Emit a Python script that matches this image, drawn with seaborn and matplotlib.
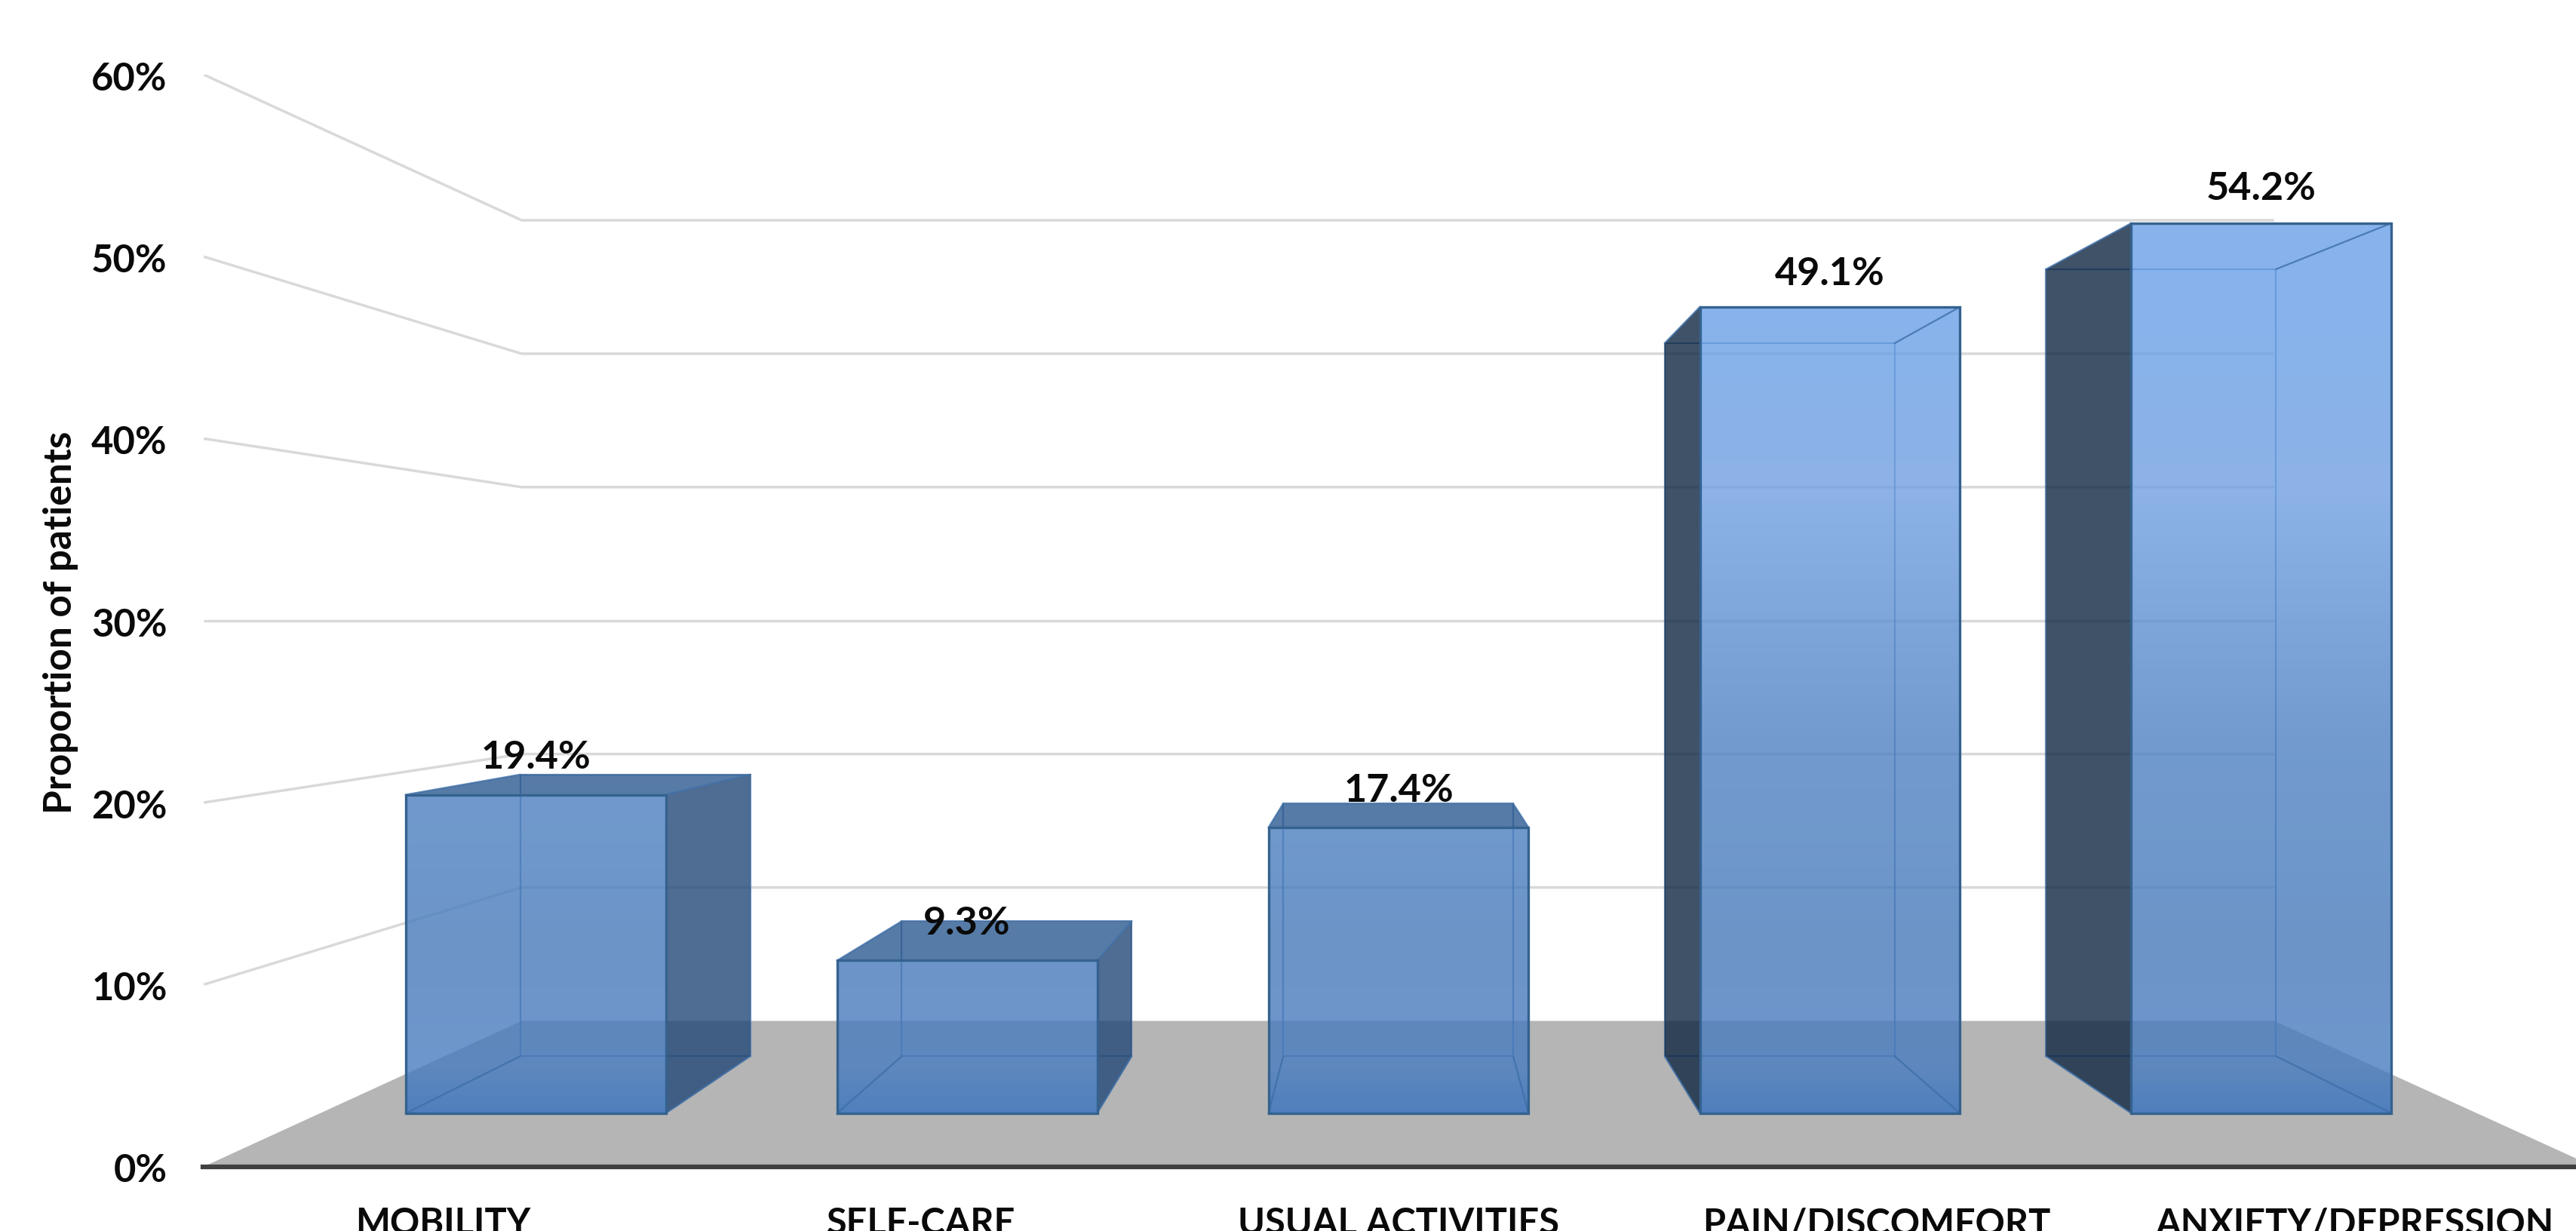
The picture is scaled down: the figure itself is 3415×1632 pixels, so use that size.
import numpy as np
import matplotlib
matplotlib.use("Agg")
import matplotlib.pyplot as plt
from matplotlib.patches import Polygon
from matplotlib.transforms import Affine2D
import seaborn as sns

categories = ["MOBILITY", "SELF-CARE", "USUAL ACTIVITIES", "PAIN/DISCOMFORT", "ANXIETY/DEPRESSION"]
values = [19.4, 9.3, 17.4, 49.1, 54.2]
y_ticks = [0, 10, 20, 30, 40, 50, 60]
y_title = "Proportion of patients"

W, H = 3415, 1633
sns.set_theme(style="white")
plt.rcParams["font.family"] = ["Lato", "DejaVu Sans"]
plt.rcParams["font.weight"] = "bold"

fig = plt.figure(figsize=(W / 100, H / 100), dpi=100, facecolor="white")
ax = fig.add_axes([269 / W, (H - 1547.5) / H, (W - 269) / W, (1547.5 - 100) / H])

BAR_W = 0.603
XV, YV = 1.993, 30.0          # vanishing point, data units
S_FRONT, S_BACK, S_WALL = 0.9026, 0.798, 0.7333
XL, XR = -0.5, 4.5
LABEL_LIFT = [50, 50, 50, 44, 46]
TEXT = "#0a0a0a"


def depth(s):
    return Affine2D().translate(-XV, -YV).scale(s).translate(XV, YV) + ax.transData


def pr(x, y, s):
    return (XV + s * (x - XV), YV + s * (y - YV))


# back faces and front faces through seaborn, then pushed to their depth
sns.barplot(x=categories, y=values, width=BAR_W, ax=ax, fill=False, color="#3d6ea8",
            linewidth=1.6, saturation=1, zorder=2.5)
n = len(categories)
back_bars = list(ax.patches)[:n]
sns.barplot(x=categories, y=values, width=BAR_W, ax=ax, fill=False, color="#34628f",
            linewidth=2.4, saturation=1, zorder=5)
front_bars = list(ax.patches)[n:2 * n]

for p in back_bars:
    p.set_transform(depth(S_BACK))
    p.set_alpha(0.75)
for p in front_bars:
    p.set_transform(depth(S_FRONT))

# floor
ax.add_patch(Polygon([pr(XL, 0, 1), pr(XR, 0, 1), pr(XR, 0, S_WALL), pr(XL, 0, S_WALL)],
                     closed=True, fc="#b5b5b5", ec="none", zorder=1))
# wall and side gridlines
for t in y_ticks[1:]:
    ax.plot(*zip(pr(XL, t, 1), pr(XL, t, S_WALL), pr(XR, t, S_WALL)),
            color="#d9d9d9", lw=2.5, zorder=1.5, solid_capstyle="butt", solid_joinstyle="miter")

grad_v = [0, 3, 10, 23, 38, 50, 60]
grad_rgb = np.array([[54, 114, 192], [74, 125, 193], [71, 122, 186], [80, 130, 196],
                     [112, 160, 226], [105, 159, 231], [105, 159, 231]]) / 255
FACE_ALPHA = 0.8

for p, v, lift in zip(front_bars, values, LABEL_LIFT):
    x0 = p.get_x()
    x1 = x0 + p.get_width()
    # front gradient
    vs = np.linspace(0, v, 256)
    img = np.ones((256, 1, 4))
    for k in range(3):
        img[:, 0, k] = np.interp(vs, grad_v, grad_rgb[:, k])
    img[:, 0, 3] = FACE_ALPHA
    ax.imshow(img, origin="lower", extent=(x0, x1, 0, v), aspect="auto",
              transform=depth(S_FRONT), zorder=4, interpolation="nearest")

    corners = {
        "fl": pr(x0, v, S_FRONT), "fr": pr(x1, v, S_FRONT),
        "bl": pr(x0, v, S_BACK), "br": pr(x1, v, S_BACK),
        "fl0": pr(x0, 0, S_FRONT), "fr0": pr(x1, 0, S_FRONT),
        "bl0": pr(x0, 0, S_BACK), "br0": pr(x1, 0, S_BACK),
    }
    # faces that stand outside the front silhouette
    if corners["bl"][0] < corners["fl"][0] - 1e-3:
        ax.add_patch(Polygon([corners[c] for c in ("fl", "bl", "bl0", "fl0")], closed=True,
                             fc="#0f2742", ec="none", alpha=FACE_ALPHA, zorder=3))
    if corners["br"][0] > corners["fr"][0] + 1e-3:
        ax.add_patch(Polygon([corners[c] for c in ("fr", "br", "br0", "fr0")], closed=True,
                             fc="#234877", ec="none", alpha=FACE_ALPHA, zorder=3))
    if corners["bl"][1] > corners["fl"][1]:
        ax.add_patch(Polygon([corners[c] for c in ("fl", "fr", "br", "bl")], closed=True,
                             fc="#2c5a90", ec="none", alpha=FACE_ALPHA, zorder=3))
    # receding edges
    for a, b in (("fl", "bl"), ("fr", "br"), ("fl0", "bl0"), ("fr0", "br0")):
        ax.plot(*zip(corners[a], corners[b]), color="#3d6ea8", lw=1.6, alpha=0.8, zorder=4.5)
    # value label
    ax.annotate(f"{v}%", xy=((x0 + x1) / 2, v), xycoords=depth(S_FRONT),
                xytext=(0, lift), textcoords="offset pixels", ha="center", va="center",
                fontsize=37.5, fontweight="bold", color=TEXT, zorder=7)

ax.set_xlim(XL - 0.002, (W - 587) / 633.7)
ax.set_ylim(0, 60)
ax.set_yticks(y_ticks)
ax.set_yticklabels([f"{t}%" for t in y_ticks])
ax.set_xticks(range(n))
ax.set_xticklabels(categories)
ax.set_xlabel("")
ax.set_ylabel(y_title, fontsize=37, fontweight="bold", color=TEXT)
ax.yaxis.set_label_coords((104 - 269) / (W - 269), (1547.5 - 825) / (1547.5 - 100))
ax.tick_params(axis="y", length=0, pad=34, labelsize=36.5, labelcolor=TEXT)
ax.tick_params(axis="x", length=0, pad=38, labelsize=35, labelcolor=TEXT)
for lab in ax.get_yticklabels():
    lab.set_transform(lab.get_transform() + Affine2D().translate(0, -1))
sns.despine(ax=ax, left=True, top=True, right=True)
ax.spines["bottom"].set_color("#404040")
ax.spines["bottom"].set_linewidth(4.5)
ax.patch.set_visible(False)

fig.savefig("out.png", dpi=100, facecolor="white")
